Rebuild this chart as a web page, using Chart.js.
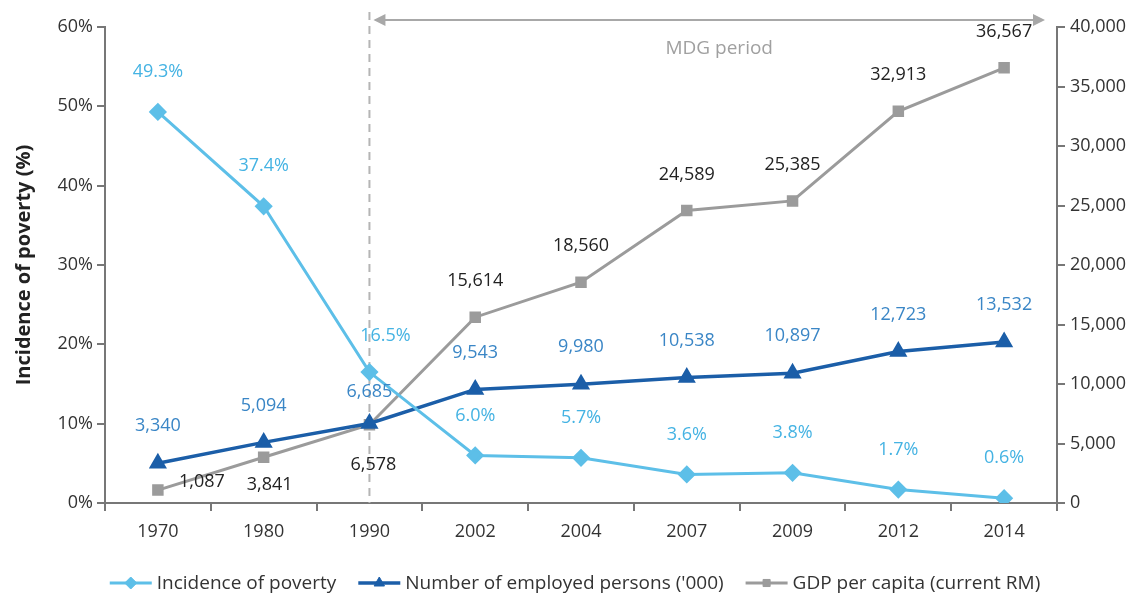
<!DOCTYPE html>
<html>
<head>
<meta charset="utf-8">
<script src="https://cdn.jsdelivr.net/npm/chart.js@4/dist/chart.umd.min.js"></script>
<style>
  html, body { margin: 0; padding: 0; background: #fff; }
  #wrap { width: 1145px; height: 596px; }
</style>
</head>
<body>
<div id="wrap"><canvas id="chart" width="1145" height="596"></canvas></div>
<script>
// Data
const years = ['1970', '1980', '1990', '2002', '2004', '2007', '2009', '2012', '2014'];
const poverty = [49.3, 37.4, 16.5, 6.0, 5.7, 3.6, 3.8, 1.7, 0.6];
const employed = [3340, 5094, 6685, 9543, 9980, 10538, 10897, 12723, 13532];
const gdp = [1087, 3841, 6578, 15614, 18560, 24589, 25385, 32913, 36567];
const mdgStart = '1990';
const mdgText = 'MDG period';

const FONT = '"Open Sans", sans-serif';
const fmt = v => v.toLocaleString('en-US');

// value labels over each point
const valueLabels = {
  id: 'valueLabels',
  afterDatasetsDraw(chart) {
    const ctx = chart.ctx;
    ctx.save();
    ctx.font = '18px ' + FONT;
    ctx.textAlign = 'center';
    ctx.textBaseline = 'middle';
    chart.data.datasets.forEach((ds, di) => {
      const meta = chart.getDatasetMeta(di);
      meta.data.forEach((pt, i) => {
        let dx = 0, dy = ds.labelRise;
        // a few labels sit beside or under the point
        if (ds.key === 'poverty' && i === 2) { dx = 16; dy = -36; }
        if (ds.key === 'employed' && i === 2) dy = -32;
        if (ds.key === 'gdp' && i === 0) { dx = 44; dy = -8; }
        if (ds.key === 'gdp' && i === 1) { dx = 6; dy = 28; }
        if (ds.key === 'gdp' && i === 2) { dx = 4; dy = 40; }
        ctx.fillStyle = ds.labelColor;
        ctx.fillText(ds.fmtLabel(ds.data[i]), pt.x + dx, pt.y + dy);
      });
    });
    ctx.restore();
  }
};

// dashed 1990 line + MDG arrow
const mdgMarker = {
  id: 'mdgMarker',
  beforeDatasetsDraw(chart) {
    const ctx = chart.ctx;
    const x = chart.scales.x.getPixelForValue(years.indexOf(mdgStart));
    const area = chart.chartArea;
    const ay = 20;
    const x2 = area.right - 12;
    ctx.save();
    ctx.strokeStyle = '#b5b5b5';
    ctx.lineWidth = 2;
    ctx.setLineDash([8, 6]);
    ctx.beginPath();
    ctx.moveTo(x, 12);
    ctx.lineTo(x, area.bottom);
    ctx.stroke();
    ctx.setLineDash([]);
    ctx.strokeStyle = '#a8a8a8';
    ctx.fillStyle = '#a8a8a8';
    ctx.lineWidth = 2;
    ctx.beginPath();
    ctx.moveTo(x + 6, ay);
    ctx.lineTo(x2 - 4, ay);
    ctx.stroke();
    ctx.beginPath();
    ctx.moveTo(x + 4, ay);
    ctx.lineTo(x + 16, ay - 6);
    ctx.lineTo(x + 16, ay + 6);
    ctx.closePath();
    ctx.fill();
    ctx.beginPath();
    ctx.moveTo(x2, ay);
    ctx.lineTo(x2 - 12, ay - 6);
    ctx.lineTo(x2 - 12, ay + 6);
    ctx.closePath();
    ctx.fill();
    ctx.font = '19px ' + FONT;
    ctx.textAlign = 'center';
    ctx.textBaseline = 'middle';
    ctx.fillStyle = '#a0a0a0';
    ctx.fillText(mdgText, (x + x2) / 2 + 12, 49);
    ctx.restore();
  }
};

// legend: line with marker, then label
const lineLegend = {
  id: 'lineLegend',
  afterDraw(chart) {
    const ctx = chart.ctx;
    const y = 583, lineW = 42, gap = 5, itemGap = 22;
    ctx.save();
    ctx.font = '19px ' + FONT;
    ctx.textBaseline = 'middle';
    const items = chart.data.datasets.map(ds => ({ ds, w: lineW + gap + ctx.measureText(ds.label).width }));
    const total = items.reduce((s, it) => s + it.w, 0) + itemGap * (items.length - 1);
    let x = 575 - total / 2;
    items.forEach(({ ds, w }) => {
      ctx.strokeStyle = ds.borderColor;
      ctx.lineWidth = ds.borderWidth;
      ctx.beginPath();
      ctx.moveTo(x, y);
      ctx.lineTo(x + lineW, y);
      ctx.stroke();
      ctx.fillStyle = ds.borderColor;
      ctx.lineWidth = 1;
      Chart.helpers.drawPoint(ctx, { pointStyle: ds.pointStyle, radius: ds.pointRadius - 1, borderWidth: 1 }, x + lineW / 2, y);
      ctx.fillStyle = '#333';
      ctx.fillText(ds.label, x + lineW + gap, y + 1);
      x += w + itemGap;
    });
    ctx.restore();
  }
};

new Chart(document.getElementById('chart'), {
  type: 'line',
  data: {
    labels: years,
    datasets: [
      {
        key: 'poverty',
        label: 'Incidence of poverty',
        data: poverty,
        yAxisID: 'y',
        borderColor: '#5dbfe8',
        backgroundColor: '#5dbfe8',
        borderWidth: 3,
        pointStyle: 'rectRot',
        pointRadius: 7,
        labelColor: '#45b3e3',
        labelRise: -40,
        fmtLabel: v => v.toFixed(1) + '%'
      },
      {
        key: 'employed',
        label: "Number of employed persons ('000)",
        data: employed,
        yAxisID: 'y1',
        borderColor: '#1b5ea8',
        backgroundColor: '#1b5ea8',
        borderWidth: 3.5,
        pointStyle: 'triangle',
        pointRadius: 7,
        labelColor: '#3a86c6',
        labelRise: -37,
        fmtLabel: fmt
      },
      {
        key: 'gdp',
        label: 'GDP per capita (current RM)',
        data: gdp,
        yAxisID: 'y1',
        borderColor: '#9b9b9b',
        backgroundColor: '#9b9b9b',
        borderWidth: 3,
        pointStyle: 'rect',
        pointRadius: 6,
        labelColor: '#222',
        labelRise: -36,
        fmtLabel: fmt
      }
    ]
  },
  options: {
    responsive: false,
    animation: false,
    layout: { padding: { top: 27, right: 0, bottom: 48, left: 0 } },
    plugins: {
      tooltip: { enabled: false },
      legend: { display: false }
    },
    scales: {
      x: {
        offset: true,
        afterFit: s => { s.height = 45; },
        grid: { offset: true, drawOnChartArea: false, drawTicks: true, tickLength: 8, color: '#777', lineWidth: 2 },
        border: { color: '#777', width: 2 },
        ticks: { color: '#333', font: { family: FONT, size: 18 }, padding: 10 }
      },
      y: {
        position: 'left',
        min: 0, max: 60,
        afterFit: s => { s.width = 105; },
        title: {
          display: true, text: 'Incidence of poverty (%)',
          color: '#222', font: { family: FONT, size: 20, weight: 'bold' }, padding: { top: 12, bottom: 0 }
        },
        grid: { drawOnChartArea: false, tickLength: 8, color: '#777', lineWidth: 2 },
        border: { color: '#777', width: 2 },
        ticks: { stepSize: 10, color: '#333', font: { family: FONT, size: 18 }, padding: 4, callback: v => v + '%' }
      },
      y1: {
        position: 'right',
        min: 0, max: 40000,
        afterFit: s => { s.width = 88; },
        grid: { drawOnChartArea: false, tickLength: 8, color: '#777', lineWidth: 2 },
        border: { color: '#777', width: 2 },
        ticks: { stepSize: 5000, color: '#333', font: { family: FONT, size: 18 }, padding: 5, callback: v => fmt(v) }
      }
    }
  },
  plugins: [mdgMarker, valueLabels, lineLegend]
});
</script>
</body>
</html>
